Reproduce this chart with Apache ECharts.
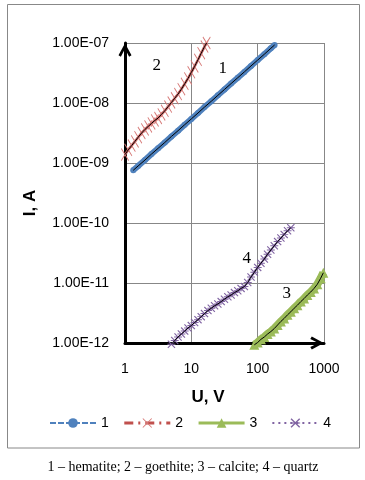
<!DOCTYPE html>
<html><head><meta charset="utf-8">
<script src="https://cdn.jsdelivr.net/npm/echarts@6/dist/echarts.min.js"></script>
<style>html,body{margin:0;padding:0;background:#fff}#c{width:365px;height:480px}</style>
</head><body><div id="c"></div>
<script>
const seriesNames = ['1', '2', '3', '4'];
const curveLabels = ['1', '2', '3', '4'];
const xTickLabels = ['1', '10', '100', '1000'];
const yTickLabels = ['1.00E-12', '1.00E-11', '1.00E-10', '1.00E-09', '1.00E-08', '1.00E-07'];
const caption = '1 \u2013 hematite; 2 \u2013 goethite; 3 \u2013 calcite; 4 \u2013 quartz';

// 1 - hematite
const u1 = [1.33, 1.58, 2.0, 2.51, 3.16, 3.98, 5.01, 6.31, 7.94, 10, 12.6, 15.8, 20, 25.1, 31.6, 39.8, 50.1, 63.1, 79.4, 100, 126, 158, 180];
const i1 = [7.55e-10, 8.95e-10, 1.12e-9, 1.41e-9, 1.76e-9, 2.20e-9, 2.77e-9, 3.46e-9, 4.35e-9, 5.43e-9, 6.81e-9, 8.55e-9, 1.07e-8, 1.34e-8, 1.68e-8, 2.11e-8, 2.64e-8, 3.30e-8, 4.15e-8, 5.19e-8, 6.50e-8, 8.17e-8, 9.27e-8];
// 2 - goethite
const u2 = [1.00, 1.12, 1.26, 1.41, 1.58, 1.78, 2.00, 2.24, 2.51, 2.82, 3.16, 3.55, 3.98, 4.47, 5.01, 5.62, 6.31, 7.08, 7.94, 8.91, 10.0, 11.2, 12.6, 14.1, 15.8, 17.0];
const i2 = [1.38e-9, 1.66e-9, 1.95e-9, 2.29e-9, 2.69e-9, 3.16e-9, 3.63e-9, 4.07e-9, 4.57e-9, 5.13e-9, 5.62e-9, 6.46e-9, 7.41e-9, 8.71e-9, 1.02e-8, 1.20e-8, 1.41e-8, 1.70e-8, 2.09e-8, 2.57e-8, 3.24e-8, 4.07e-8, 5.25e-8, 6.76e-8, 8.71e-8, 1.00e-7];
// 3 - calcite
const u3 = [89.1, 100, 112, 126, 141, 158, 178, 200, 224, 251, 282, 316, 355, 398, 447, 501, 562, 631, 708, 794, 891, 977];
const i3 = [9.33e-13, 1.02e-12, 1.15e-12, 1.26e-12, 1.41e-12, 1.55e-12, 1.74e-12, 2.00e-12, 2.29e-12, 2.57e-12, 2.95e-12, 3.31e-12, 3.80e-12, 4.27e-12, 4.90e-12, 5.50e-12, 6.31e-12, 7.08e-12, 8.13e-12, 9.55e-12, 1.20e-11, 1.48e-11];
// 4 - quartz
const u4 = [5.01, 5.62, 6.31, 7.08, 7.94, 8.91, 10, 11.2, 12.6, 14.1, 15.8, 17.8, 20.0, 22.4, 25.1, 28.2, 31.6, 35.5, 39.8, 44.7, 50.1, 56.2, 63.1, 70.8, 79.4, 89.1, 100, 112, 126, 141, 158, 178, 200, 224, 251, 282, 316];
const i4 = [9.55e-13, 1.10e-12, 1.26e-12, 1.41e-12, 1.58e-12, 1.78e-12, 1.95e-12, 2.19e-12, 2.45e-12, 2.75e-12, 3.09e-12, 3.47e-12, 3.80e-12, 4.17e-12, 4.47e-12, 4.90e-12, 5.37e-12, 5.89e-12, 6.31e-12, 6.92e-12, 7.41e-12, 8.13e-12, 8.71e-12, 1.02e-11, 1.26e-11, 1.51e-11, 1.82e-11, 2.14e-11, 2.51e-11, 3.02e-11, 3.55e-11, 4.17e-11, 4.90e-11, 5.62e-11, 6.46e-11, 7.41e-11, 8.32e-11];

const zip = (u, i) => u.map((v, k) => [v, i[k]]);
const colors = ['#4F81BD', '#C0504D', '#9BBB59', '#8064A2'];
const cross = 'path://M0,0.7L0.7,0L5,4.3L9.3,0L10,0.7L5.7,5L10,9.3L9.3,10L5,5.7L0.7,10L0,9.3L4.3,5Z';
const crossBar = 'path://M0,1L1,0L5,4L9,0L10,1L6,5L10,9L9,10L5,6L1,10L0,9L4,5ZM0,4.4H10V5.6H0Z';
const chevron = 'path://M6,0L12,11L9.8,12.4L6,5L2.2,12.4L0,11Z';
const yMinExp = -12;
const centered = { align: 'center', verticalAlign: 'middle', textAlign: 'center', textVerticalAlign: 'middle', fill: '#000' };

const chart = echarts.init(document.getElementById('c'));

function colored(idx, u, i, opts) {
  return Object.assign({
    name: seriesNames[idx], type: 'line', data: zip(u, i), clip: false, z: 2,
    itemStyle: { color: colors[idx] }, animation: false
  }, opts);
}
function trend(u, i) {
  return { name: 't', type: 'line', data: zip(u, i), symbol: 'none', clip: false, z: 4,
    lineStyle: { color: '#000', width: 1 }, silent: true, animation: false };
}
function label(x, y, text) {
  return { type: 'text', x: x, y: y, style: Object.assign({ text: text, font: '17px "Liberation Serif"' }, centered) };
}

chart.setOption({
  backgroundColor: '#fff',
  animation: false,
  grid: { left: 125, right: 41, top: 43, bottom: 137, containLabel: false },
  xAxis: {
    type: 'log', logBase: 10, min: 1, max: 1000,
    axisLine: { onZero: false, lineStyle: { color: '#000', width: 3 }, symbol: ['none', chevron], symbolSize: [13, 14], symbolOffset: [0, -7] },
    axisTick: { show: false },
    splitLine: { show: true, lineStyle: { color: '#878787', width: 1 } },
    axisLabel: { margin: 19, color: '#000', fontSize: 14, fontFamily: 'Liberation Sans',
      formatter: v => xTickLabels[Math.round(Math.log10(v))] }
  },
  yAxis: {
    type: 'log', logBase: 10, min: 1e-12, max: 1e-7,
    axisLine: { onZero: false, lineStyle: { color: '#000', width: 3 }, symbol: ['none', chevron], symbolSize: [13, 14], symbolOffset: [0, -7] },
    axisTick: { show: false },
    splitLine: { show: true, lineStyle: { color: '#878787', width: 1 } },
    axisLabel: { margin: 16, color: '#000', fontSize: 14, fontFamily: 'Liberation Sans',
      formatter: v => yTickLabels[Math.round(Math.log10(v)) - yMinExp] }
  },
  legend: {
    left: 44, top: 411, itemWidth: 46, itemHeight: 12, itemGap: 14,
    textStyle: { fontSize: 14, fontFamily: 'Liberation Sans', color: '#000' },
    data: [
      { name: '1', lineStyle: { width: 2, type: [6, 2] } },
      { name: '2', lineStyle: { width: 3, type: [9, 5, 2, 5] } },
      { name: '3', lineStyle: { width: 3, type: 'solid' } },
      { name: '4', lineStyle: { width: 2, type: [2, 4] } }
    ]
  },
  series: [
    colored(0, u1, i1, { symbol: 'circle', symbolSize: 6, lineStyle: { color: colors[0], width: 6 } }),
    colored(1, u2, i2, { symbol: cross, symbolSize: [8, 13], itemStyle: { color: '#D77A78' }, lineStyle: { color: colors[1], width: 2.5 } }),
    colored(2, u3, i3, { symbol: 'triangle', symbolSize: 10, lineStyle: { color: colors[2], width: 8 } }),
    colored(3, u4, i4, { symbol: crossBar, symbolSize: 8, lineStyle: { color: colors[3], width: 1, type: [2, 3] } }),
    trend(u1, i1), trend(u2, i2), trend(u3, i3), trend(u4, i4)
  ],
  graphic: [
    { type: 'rect', z: -10, shape: { x: 7.5, y: 4.5, width: 352, height: 443.5 }, style: { fill: 'none', stroke: '#888', lineWidth: 1 } },
    { type: 'text', x: 208, y: 397, style: Object.assign({ text: 'U, V', font: 'bold 17px "Liberation Sans"' }, centered) },
    { type: 'text', x: 30, y: 203, rotation: Math.PI / 2, style: Object.assign({ text: 'I, A', font: 'bold 17px "Liberation Sans"' }, centered) },
    { type: 'text', x: 183, y: 467, style: Object.assign({ text: caption, font: '14px "Liberation Serif"' }, centered) },
    label(222.7, 68.3, curveLabels[0]),
    label(156.7, 65.7, curveLabels[1]),
    label(286.7, 293.3, curveLabels[2]),
    label(246.7, 258.3, curveLabels[3])
  ]
});
</script>
</body></html>
